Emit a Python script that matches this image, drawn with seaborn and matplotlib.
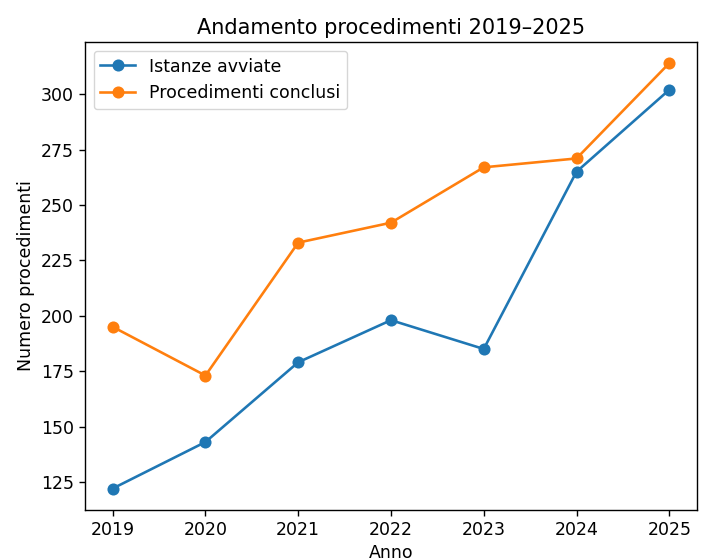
import pandas as pd
import matplotlib
matplotlib.use('Agg')
import matplotlib.pyplot as plt
import seaborn as sns

# Dati
anni = [2019, 2020, 2021, 2022, 2023, 2024, 2025]
istanze_avviate = [122, 143, 179, 198, 185, 265, 302]
procedimenti_conclusi = [195, 173, 233, 242, 267, 271, 314]

df = pd.DataFrame({
    'Anno': anni * 2,
    'Numero procedimenti': istanze_avviate + procedimenti_conclusi,
    'Serie': ['Istanze avviate'] * len(anni) + ['Procedimenti conclusi'] * len(anni),
})

# Immagine di riferimento ~1.25x rispetto allo stile di default
s = 1.25
plt.rcParams.update({
    'font.size': 10 * s,
    'axes.linewidth': 0.8 * s,
    'xtick.major.size': 3.5 * s,
    'ytick.major.size': 3.5 * s,
    'xtick.major.width': 0.8 * s,
    'ytick.major.width': 0.8 * s,
})

fig = plt.figure(figsize=(7.07, 5.59), dpi=100)
ax = fig.add_axes([0.120, 0.088, 0.866, 0.837])

sns.lineplot(data=df, x='Anno', y='Numero procedimenti', hue='Serie',
             palette=['#1f77b4', '#ff7f0e'], marker='o', markersize=8.7,
             markeredgewidth=0, linewidth=1.5 * s, ax=ax)

ax.set_title('Andamento procedimenti 2019–2025', fontsize=12 * s)
ax.set_xlabel('Anno')
ax.set_ylabel('Numero procedimenti')
ax.set_xticks(anni)
ax.set_yticks([125, 150, 175, 200, 225, 250, 275, 300])
ax.legend(title=None, loc='upper left')

fig.savefig('out.png', dpi=100)
